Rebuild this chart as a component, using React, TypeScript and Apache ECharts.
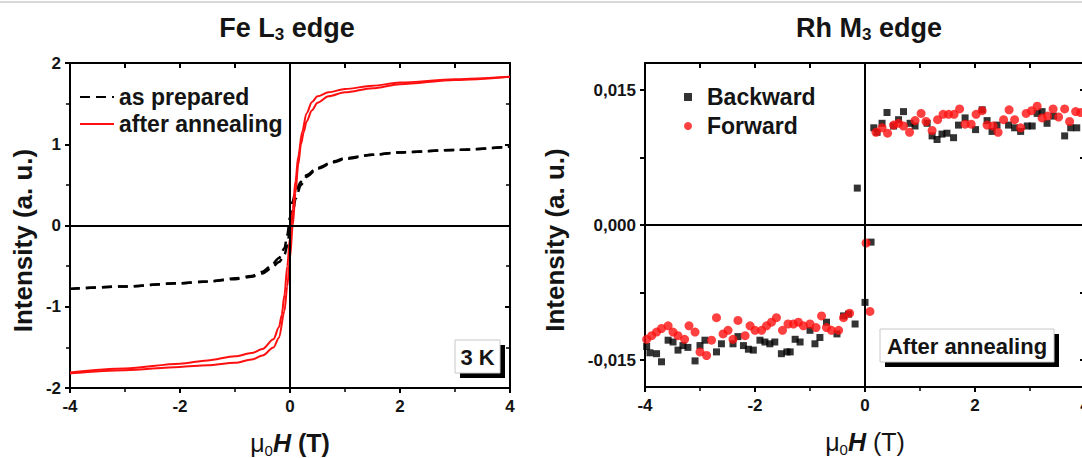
import React, { useEffect, useRef } from 'react';
import * as echarts from 'echarts';

const FONT = '"Liberation Sans", Arial, Helvetica, sans-serif';
const TXT = '#141414';
const RED = '#ff1010';

// ---------- Left panel: Fe L3 edge ----------
const annealDescX = [-4, -3, -2, -1.5, -1, -0.7, -0.5, -0.3, -0.2, -0.15, -0.1, -0.05, 0, 0.05, 0.1, 0.15, 0.22, 0.3, 0.4, 0.5, 0.7, 1, 1.5, 2, 3, 4];
const annealDescY = [-1.81, -1.76, -1.70, -1.66, -1.61, -1.57, -1.52, -1.40, -1.25, -1.10, -0.85, -0.50, -0.15, 0.20, 0.55, 0.85, 1.15, 1.38, 1.52, 1.59, 1.64, 1.68, 1.72, 1.76, 1.80, 1.83];
const annealAscX = [-4, -3, -2, -1.5, -1, -0.7, -0.5, -0.3, -0.2, -0.1, -0.05, 0, 0.05, 0.1, 0.15, 0.2, 0.25, 0.3, 0.4, 0.5, 0.7, 1, 1.5, 2, 3, 4];
const annealAscY = [-1.82, -1.78, -1.74, -1.72, -1.69, -1.65, -1.60, -1.50, -1.38, -1.05, -0.75, -0.40, 0.00, 0.40, 0.75, 1.00, 1.15, 1.28, 1.42, 1.51, 1.59, 1.64, 1.69, 1.74, 1.79, 1.83];
const preparedAX = [-4, -3, -2, -1.5, -1, -0.7, -0.5, -0.35, -0.2, -0.1, -0.05, 0, 0.05, 0.1, 0.2, 0.3, 0.5, 0.8, 1, 1.5, 2, 3, 4];
const preparedAY = [-0.78, -0.75, -0.71, -0.69, -0.65, -0.62, -0.57, -0.50, -0.40, -0.28, -0.12, 0.10, 0.30, 0.42, 0.54, 0.62, 0.71, 0.79, 0.83, 0.87, 0.90, 0.93, 0.97];
const preparedBY = [-0.78, -0.75, -0.71, -0.69, -0.66, -0.63, -0.59, -0.53, -0.45, -0.36, -0.25, -0.05, 0.15, 0.33, 0.50, 0.60, 0.70, 0.78, 0.82, 0.87, 0.90, 0.93, 0.97];

// ---------- Right panel: Rh M3 edge ----------
const backwardPoints: [number, number][] = [
  [-3.97, -0.0135], [-3.91, -0.0142], [-3.79, -0.0143], [-3.70, -0.0152], [-3.58, -0.0128],
  [-3.49, -0.0130], [-3.40, -0.0139], [-3.31, -0.0134], [-3.22, -0.0136], [-3.09, -0.0151],
  [-3.00, -0.0134], [-2.91, -0.0128], [-2.70, -0.0141], [-2.61, -0.0132], [-2.40, -0.0132],
  [-2.31, -0.0124], [-2.21, -0.0134], [-2.12, -0.0138], [-2.03, -0.0139], [-1.91, -0.0128],
  [-1.82, -0.0130], [-1.73, -0.0132], [-1.64, -0.0130], [-1.52, -0.0143], [-1.42, -0.0141],
  [-1.36, -0.0141], [-1.27, -0.0127], [-1.18, -0.0130], [-1.00, -0.0117], [-0.91, -0.0132],
  [-0.82, -0.0125], [-0.70, -0.0108], [-0.51, -0.0121], [-0.39, -0.0101], [-0.30, -0.0099],
  [-0.18, -0.0110], [-0.14, 0.0041], [0.00, -0.0086], [0.11, -0.0019],
  [0.16, 0.0108], [0.22, 0.0103], [0.31, 0.0113], [0.40, 0.0125], [0.52, 0.0110],
  [0.61, 0.0117], [0.70, 0.0126], [0.82, 0.0113], [0.91, 0.0110], [1.13, 0.0113],
  [1.22, 0.0099], [1.31, 0.0095], [1.40, 0.0101], [1.49, 0.0102], [1.61, 0.0097],
  [1.70, 0.0111], [1.82, 0.0119], [2.01, 0.0106], [2.13, 0.0128], [2.22, 0.0116],
  [2.31, 0.0104], [2.40, 0.0111], [2.61, 0.0111], [2.72, 0.0108], [2.83, 0.0104],
  [2.95, 0.0110], [3.04, 0.0110], [3.13, 0.0124], [3.22, 0.0126], [3.31, 0.0113],
  [3.43, 0.0121], [3.63, 0.0099], [3.74, 0.0108], [3.85, 0.0108]
];
const forwardPoints: [number, number][] = [
  [-3.97, -0.0127], [-3.88, -0.0123], [-3.79, -0.0119], [-3.70, -0.0115], [-3.58, -0.0112],
  [-3.49, -0.0119], [-3.40, -0.0123], [-3.28, -0.0127], [-3.20, -0.0112], [-3.09, -0.0119],
  [-3.00, -0.0141], [-2.88, -0.0145], [-2.79, -0.0128], [-2.70, -0.0103], [-2.58, -0.0121],
  [-2.49, -0.0117], [-2.40, -0.0127], [-2.31, -0.0106], [-2.18, -0.0123], [-2.09, -0.0112],
  [-2.00, -0.0117], [-1.88, -0.0117], [-1.79, -0.0112], [-1.70, -0.0108], [-1.61, -0.0103],
  [-1.50, -0.0117], [-1.40, -0.0110], [-1.30, -0.0110], [-1.21, -0.0108], [-1.12, -0.0112],
  [-1.00, -0.0110], [-0.89, -0.0114], [-0.79, -0.0101], [-0.70, -0.0114], [-0.61, -0.0117],
  [-0.48, -0.0117], [-0.39, -0.0103], [-0.28, -0.0098], [0.02, -0.0020], [0.09, -0.0096],
  [0.20, 0.0103], [0.31, 0.0108], [0.41, 0.0102], [0.52, 0.0111], [0.61, 0.0113],
  [0.70, 0.0110], [0.81, 0.0103], [0.91, 0.0116], [1.02, 0.0124], [1.11, 0.0115],
  [1.22, 0.0105], [1.32, 0.0117], [1.42, 0.0123], [1.52, 0.0123], [1.62, 0.0123],
  [1.72, 0.0129], [1.82, 0.0112], [1.93, 0.0112], [2.02, 0.0123], [2.13, 0.0127],
  [2.22, 0.0111], [2.33, 0.0110], [2.42, 0.0103], [2.52, 0.0117], [2.62, 0.0128],
  [2.72, 0.0117], [2.83, 0.0108], [2.93, 0.0124], [3.03, 0.0127], [3.13, 0.0132],
  [3.22, 0.0119], [3.32, 0.0121], [3.42, 0.0129], [3.52, 0.0120], [3.63, 0.0129],
  [3.72, 0.0115], [3.83, 0.0126], [3.92, 0.0125]
];

const rhLabelValues = [-0.015, 0, 0.015];
const rhTickValues = [-0.015, -0.0075, 0, 0.0075, 0.015];

const zip = (xs: number[], ys: number[]) => xs.map((x, i) => [x, ys[i]]);

const axisLine = { onZero: false, lineStyle: { color: '#000', width: 2 } };
const labelStyle = { fontFamily: FONT, fontWeight: 'bold' as const, fontSize: 17, color: TXT };

const xName = (boldT: boolean) => ({
  name: boldT ? '{m|μ}{s|0}{h|H}{b| (T)}' : '{m|μ}{s|0}{h|H}{r| (T)}',
  nameLocation: 'middle',
  nameGap: 39,
  nameTextStyle: {
    rich: {
      m: { fontFamily: FONT, fontSize: 25, color: TXT },
      s: { fontFamily: FONT, fontSize: 15, color: TXT, padding: [16, 0, 0, 0] },
      h: { fontFamily: FONT, fontSize: 25, fontWeight: 'bold', fontStyle: 'italic', color: TXT },
      b: { fontFamily: FONT, fontSize: 25, fontWeight: 'bold', color: TXT },
      r: { fontFamily: FONT, fontSize: 25, color: TXT },
    },
  },
});

const xAxes = (gridIndex: number, boldT: boolean) => [
  {
    type: 'value', gridIndex, min: -4, max: 4, interval: 2, position: 'bottom',
    axisLine, axisTick: { inside: false, length: 5, lineStyle: { color: '#000', width: 2 } },
    minorTick: { show: true, splitNumber: 2, length: 4, lineStyle: { color: '#000', width: 1.5 } },
    axisLabel: { ...labelStyle, margin: 10 },
    splitLine: { show: false },
    ...xName(boldT),
  },
  {
    type: 'value', gridIndex, min: -4, max: 4, interval: 2, position: 'top',
    axisLine, axisTick: { inside: true, length: 5, lineStyle: { color: '#000', width: 2 } },
    minorTick: { show: true, splitNumber: 2, length: 5, lineStyle: { color: '#000', width: 2 } },
    axisLabel: { show: false }, splitLine: { show: false },
  },
];

const yName = (gap: number) => ({
  name: 'Intensity (a. u.)',
  nameLocation: 'middle',
  nameRotate: 90,
  nameGap: gap,
  nameTextStyle: { fontFamily: FONT, fontSize: 26, fontWeight: 'bold', color: TXT, padding: [0, 30, 0, 0] },
});

const titleRich = {
  a: { fontFamily: FONT, fontSize: 27, fontWeight: 'bold', color: TXT },
  s: { fontFamily: FONT, fontSize: 17, fontWeight: 'bold', color: TXT, padding: [14, 0, 0, 0] },
};

const option: any = {
  animation: false,
  backgroundColor: '#fff',
  title: [
    { text: '{a|Fe L}{s|3}{a| edge}', left: 282, top: 7, textAlign: 'center', textStyle: { rich: titleRich } },
    { text: '{a|Rh M}{s|3}{a| edge}', left: 864, top: 7, textAlign: 'center', textStyle: { rich: titleRich } },
  ],
  legend: [
    {
      data: ['as prepared', 'after annealing'],
      left: 74, top: 80, orient: 'vertical', itemWidth: 34, itemHeight: 14, itemGap: 3,
      itemStyle: { opacity: 0 },
      textStyle: { fontFamily: FONT, fontWeight: 'bold', fontSize: 23, color: TXT, lineHeight: 24 },
    },
    {
      data: [{ name: 'Backward', icon: 'rect' }, { name: 'Forward', icon: 'circle' }],
      left: 679, top: 80, orient: 'vertical', itemWidth: 8, itemHeight: 8, itemGap: 5,
      textStyle: { fontFamily: FONT, fontWeight: 'bold', fontSize: 23, color: TXT, lineHeight: 24, padding: [0, 0, 0, 10] },
    },
  ],
  grid: [
    { left: 70, top: 63, width: 440, height: 325, outerBoundsMode: 'none', containLabel: false },
    { left: 645, top: 63, width: 440, height: 324, outerBoundsMode: 'none', containLabel: false },
  ],
  xAxis: [...xAxes(0, true), ...xAxes(1, false)],
  yAxis: [
    {
      type: 'value', gridIndex: 0, min: -2, max: 2, interval: 1, position: 'left',
      axisLine, axisTick: { inside: false, length: 5, lineStyle: { color: '#000', width: 2 } },
      minorTick: { show: true, splitNumber: 2, length: 4, lineStyle: { color: '#000', width: 1.5 } },
      axisLabel: { ...labelStyle, margin: 9 }, splitLine: { show: false },
      ...yName(34),
    },
    {
      type: 'value', gridIndex: 0, min: -2, max: 2, interval: 1, position: 'right',
      axisLine, axisTick: { inside: true, length: 5, lineStyle: { color: '#000', width: 2 } },
      minorTick: { show: true, splitNumber: 2, length: 4, lineStyle: { color: '#000', width: 1.5 } },
      axisLabel: { show: false }, splitLine: { show: false },
    },
    {
      type: 'value', gridIndex: 1, min: -0.018, max: 0.018, position: 'left',
      axisLine,
      axisTick: { inside: false, length: 5, customValues: rhTickValues, lineStyle: { color: '#000', width: 2 } },
      axisLabel: {
        ...labelStyle, margin: 9, customValues: rhLabelValues,
        formatter: (v: number) => (Math.abs(v) < 1e-9 ? '0,000' : v.toFixed(3).replace('.', ',')),
      },
      splitLine: { show: false },
      ...yName(77),
    },
    {
      type: 'value', gridIndex: 1, min: -0.018, max: 0.018, position: 'right',
      axisLine,
      axisTick: { inside: true, length: 5, customValues: rhTickValues, lineStyle: { color: '#000', width: 2 } },
      axisLabel: { show: false }, splitLine: { show: false },
    },
  ],
  series: [
    {
      name: 'as prepared', type: 'line', xAxisIndex: 0, yAxisIndex: 0,
      data: zip(preparedAX, preparedAY), showSymbol: false, symbol: 'none', smooth: 0.3, smoothMonotone: 'x',
      lineStyle: { color: '#000', width: 2.5, type: [10, 6] }, itemStyle: { color: '#000' },
      markLine: {
        silent: true, symbol: ['none', 'none'], label: { show: false },
        lineStyle: { color: '#000', width: 2, type: 'solid' },
        data: [{ xAxis: 0 }, { yAxis: 0 }],
      },
    },
    {
      name: 'as prepared', type: 'line', xAxisIndex: 0, yAxisIndex: 0,
      data: zip(preparedAX, preparedBY), showSymbol: false, symbol: 'none', smooth: 0.3, smoothMonotone: 'x',
      lineStyle: { color: '#000', width: 2.5, type: [10, 6] }, itemStyle: { color: '#000' },
    },
    {
      name: 'after annealing', type: 'line', xAxisIndex: 0, yAxisIndex: 0,
      data: zip(annealDescX, annealDescY), showSymbol: false, symbol: 'none', smooth: 0.3, smoothMonotone: 'x',
      lineStyle: { color: RED, width: 2 }, itemStyle: { color: RED },
    },
    {
      name: 'after annealing', type: 'line', xAxisIndex: 0, yAxisIndex: 0,
      data: zip(annealAscX, annealAscY), showSymbol: false, symbol: 'none', smooth: 0.3, smoothMonotone: 'x',
      lineStyle: { color: RED, width: 2 }, itemStyle: { color: RED },
    },
    {
      name: 'Backward', type: 'scatter', xAxisIndex: 2, yAxisIndex: 2,
      data: backwardPoints, symbol: 'rect', symbolSize: 7, itemStyle: { color: '#000' },
      markLine: {
        silent: true, symbol: ['none', 'none'], label: { show: false },
        lineStyle: { color: '#000', width: 2, type: 'solid' },
        data: [{ xAxis: 0 }, { yAxis: 0 }],
      },
    },
    {
      name: 'Forward', type: 'scatter', xAxisIndex: 2, yAxisIndex: 2,
      data: forwardPoints, symbol: 'circle', symbolSize: 9, itemStyle: { color: RED },
    },
  ],
  graphic: [
    { type: 'line', shape: { x1: 0, y1: 2, x2: 1082, y2: 2 }, style: { stroke: '#d8d8d8', lineWidth: 2 }, silent: true },
    {
      type: 'group', silent: true,
      children: [
        { type: 'rect', shape: { x: 460, y: 345, width: 45, height: 33 }, style: { fill: '#000' } },
        { type: 'rect', shape: { x: 455, y: 340, width: 45, height: 33 }, style: { fill: '#fff', stroke: '#c8c8c8', lineWidth: 1 } },
        { type: 'text', x: 477.5, y: 357, style: { text: '3 K', fill: TXT, font: `bold 22px ${FONT}`, align: 'center', verticalAlign: 'middle' } },
      ],
    },
    {
      type: 'group', silent: true,
      children: [
        { type: 'rect', shape: { x: 885, y: 334, width: 174, height: 33 }, style: { fill: '#000' } },
        { type: 'rect', shape: { x: 880, y: 329, width: 174, height: 33 }, style: { fill: '#fff', stroke: '#c8c8c8', lineWidth: 1 } },
        { type: 'text', x: 967, y: 346, style: { text: 'After annealing', fill: TXT, font: `bold 22px ${FONT}`, align: 'center', verticalAlign: 'middle' } },
      ],
    },
  ],
};

export default function App() {
  const ref = useRef<HTMLDivElement>(null);
  useEffect(() => {
    const chart = echarts.init(ref.current as HTMLDivElement, null, { renderer: 'svg' });
    chart.setOption(option);
    return () => chart.dispose();
  }, []);
  return (
    <div
      ref={ref}
      style={{ position: 'fixed', left: 0, top: 0, width: 1082, height: 458, background: '#fff', overflow: 'hidden' }}
    />
  );
}
